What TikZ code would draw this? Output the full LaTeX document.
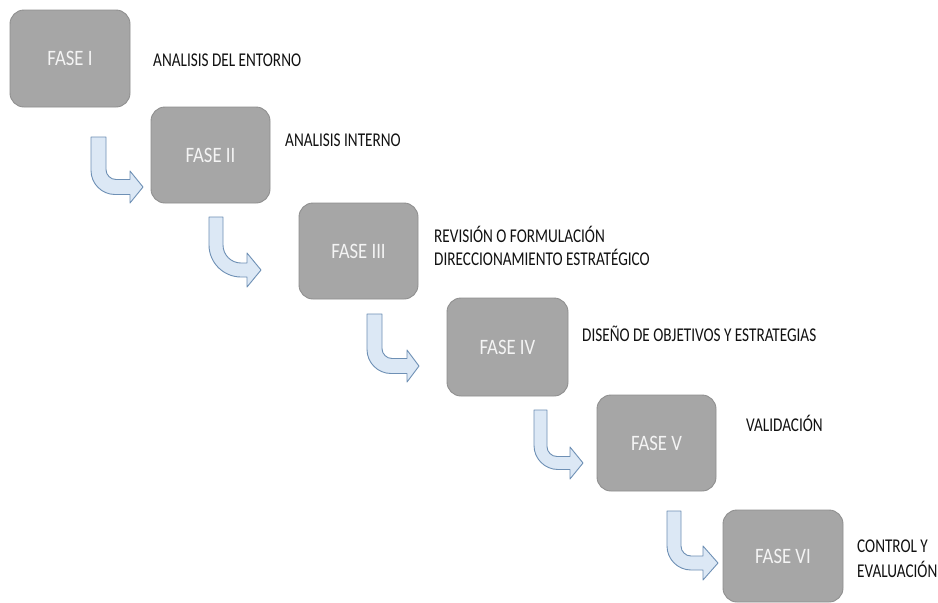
\documentclass[tikz,border=0pt]{standalone}
\usepackage{fontspec}
\newfontfamily\cf[FakeStretch=0.85]{Carlito}
\newfontfamily\cfl[FakeStretch=0.78]{Carlito}
\definecolor{boxfill}{HTML}{A6A6A6}
\definecolor{boxline}{HTML}{8F8F8F}
\definecolor{boxtext}{HTML}{F4F4F4}
\definecolor{arrfill}{HTML}{DCE8F5}
\definecolor{arrline}{HTML}{6E90B5}
\definecolor{labtext}{HTML}{111111}
\tikzset{
  fasebox/.style={draw=boxline, line width=0.9pt, fill=boxfill, rounded corners=14pt,
    minimum width=120pt, minimum height=97pt, inner sep=0pt,
    text=boxtext, font=\cf\fontsize{22}{25}\selectfont},
  faselabel/.style={anchor=west, inner sep=0pt, text=labtext, align=left,
    font=\cfl\fontsize{19.5}{23}\selectfont},
  bentarr/.style={draw=arrline, line width=0.9pt, fill=arrfill, line join=round}
}
% L, w, T, C, B, X, h, R, r
\newcommand\bentarrow[9]{%
  \draw[bentarr] (#1,#3) -- (#1,{#4+#2/2-#8})
    .. controls (#1,{#4+#2/2-0.45*#8}) and ({#1+0.45*#8},{#4+#2/2}) .. ({#1+#8},{#4+#2/2})
    -- (#5,{#4+#2/2}) -- (#5,{#4+#7}) -- (#6,#4) -- (#5,{#4-#7}) -- (#5,{#4-#2/2})
    -- ({#1+#2+#9},{#4-#2/2})
    .. controls ({#1+#2+0.45*#9},{#4-#2/2}) and ({#1+#2},{#4-#2/2-0.45*#9}) .. ({#1+#2},{#4-#2/2-#9})
    -- ({#1+#2},#3) -- cycle;}
\begin{document}
\begin{tikzpicture}[x=1pt,y=-1pt]
\useasboundingbox[fill=white] (0,0) rectangle (938,603);
% boxes
\node[fasebox] (f1) at (70,58.5) {FASE I};
\node[fasebox, minimum width=119pt, minimum height=96pt] (f2) at (210.5,155) {FASE II};
\node[fasebox, minimum width=119pt, minimum height=96pt] (f3) at (358.5,251) {FASE III};
\node[fasebox, minimum width=121pt, minimum height=98pt] (f4) at (507.5,347) {FASE IV};
\node[fasebox, minimum width=119pt, minimum height=96pt] (f5) at (656.5,443) {FASE V};
\node[fasebox, minimum width=120pt, minimum height=92pt] (f6) at (783,556) {FASE VI};
% arrows
\bentarrow{91}{15}{137}{187}{130}{143}{16}{24}{10}
\bentarrow{209}{14}{217}{270}{247}{261}{17}{32}{18}
\bentarrow{367}{15}{314}{366}{407}{419}{16}{24}{10}
\bentarrow{534}{13}{410}{463}{570}{583}{16}{24}{10}
\bentarrow{667}{14}{511}{563}{703}{718}{17}{24}{10}
% labels
\node[faselabel] (l1) at (153,60) {ANALISIS DEL ENTORNO};
\node[faselabel] (l2) at (285,140) {ANALISIS INTERNO};
\node[faselabel] (l3) at (434,245.5) {REVISIÓN O FORMULACIÓN\\DIRECCIONAMIENTO ESTRATÉGICO};
\node[faselabel] (l4) at (582,334) {DISEÑO DE OBJETIVOS Y ESTRATEGIAS};
\node[faselabel] (l5) at (746,423) {VALIDACIÓN};
\node[faselabel, font=\cfl\fontsize{19.5}{25}\selectfont] (l6) at (857,558.5) {CONTROL Y\\EVALUACIÓN};
\end{tikzpicture}
\end{document}
